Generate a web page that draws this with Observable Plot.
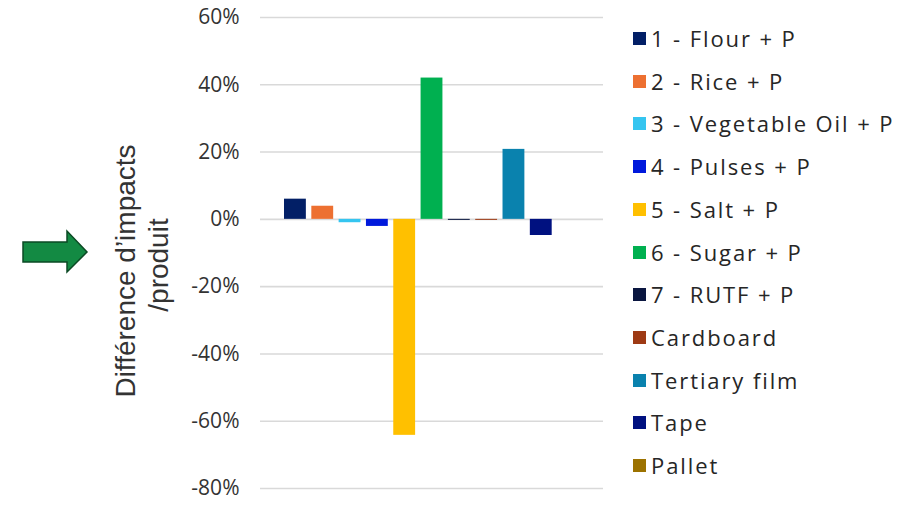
<!DOCTYPE html>
<html><head><meta charset="utf-8">
<script src="https://cdn.jsdelivr.net/npm/d3@7"></script>
<script src="https://cdn.jsdelivr.net/npm/@observablehq/plot@0.6"></script>
<style>
body{margin:0;background:#fff;}
#wrap{position:relative;width:909px;height:505px;overflow:hidden;}
#wrap svg.plot{position:absolute;left:0;top:0;}
.legend{position:absolute;left:633px;top:0;font-family:"Open Sans",sans-serif;font-size:22px;color:#262626;letter-spacing:1.9px;}
.legend .row{position:absolute;left:0;white-space:nowrap;height:26px;line-height:26px;}
.legend .sw{position:absolute;left:0;top:7px;width:13px;height:13px;}
.legend .lab{position:absolute;left:18px;top:0;}
#arrow{position:absolute;left:0;top:0;}
</style></head><body><div id="wrap"></div>
<script>
const categories = ["1 - Flour + P","2 - Rice + P","3 - Vegetable Oil + P","4 - Pulses + P","5 - Salt + P","6 - Sugar + P","7 - RUTF + P","Cardboard","Tertiary film","Tape","Pallet"];
const values = [0.06, 0.039, -0.01, -0.021, -0.642, 0.42, -0.003, -0.003, 0.208, -0.048, 0];
const colors = ["#021F66","#ED7031","#35C5F0","#0019DC","#FFC000","#00B050","#0A1640","#9E3A14","#0A82AE","#001180","#9C7200"];
const yTicks = [-0.8,-0.6,-0.4,-0.2,0,0.2,0.4,0.6];
const yLabel = ["Différence d’impacts", "/produit"];

const data = categories.map((c,i)=>({cat:c, value:values[i]}));
const wrap = document.getElementById("wrap");

const plot = Plot.plot({
  width: 909, height: 505,
  marginLeft: 260, marginRight: 306, marginTop: 17, marginBottom: 17,
  style: {background: "#fff", fontFamily: "'Open Sans', sans-serif"},
  x: {domain: categories, range: [284, 579], paddingInner: 0.2, paddingOuter: 0, round: false, axis: null},
  y: {domain: [-0.8, 0.6], axis: null},
  color: {domain: categories, range: colors},
  marks: [
    Plot.gridY(yTicks, {stroke: "#d9d9d9", strokeOpacity: 1, strokeWidth: 1.6}),
    Plot.barY(data, {x: "cat", y: "value", fill: "cat"}),
    Plot.axisY(yTicks, {label: null, tickSize: 0, tickPadding: 21, tickFormat: d => Math.round(d*100) + "%", fontSize: 21, fill: "#333", letterSpacing: 0.6, fontFamily: "'Open Sans', sans-serif"}),
    Plot.text([yLabel[0]], {frameAnchor: "left", textAnchor: "middle", rotate: -90, dx: -134, dy: 18, fontSize: 28, fill: "#333", letterSpacing: 1.2, fontFamily: "'Liberation Sans', Arial, sans-serif"}),
    Plot.text([yLabel[1]], {frameAnchor: "left", textAnchor: "middle", rotate: -90, dx: -101, dy: 12, fontSize: 28, fill: "#333", letterSpacing: 1.2, fontFamily: "'Liberation Sans', Arial, sans-serif"})
  ]
});
plot.classList.add("plot");
wrap.appendChild(plot);

// legend
const leg = document.createElement("div");
leg.className = "legend";
categories.forEach((c,i)=>{
  const row = document.createElement("div");
  row.className = "row";
  row.style.top = (25 + i*42.7) + "px";
  const sw = document.createElement("div");
  sw.className = "sw"; sw.style.background = colors[i];
  const lab = document.createElement("div");
  lab.className = "lab"; lab.textContent = c;
  row.appendChild(sw); row.appendChild(lab);
  leg.appendChild(row);
});
wrap.appendChild(leg);

// decorative arrow
const ns = "http://www.w3.org/2000/svg";
const svg = document.createElementNS(ns, "svg");
svg.setAttribute("id","arrow"); svg.setAttribute("width","100"); svg.setAttribute("height","300");
const poly = document.createElementNS(ns, "polygon");
poly.setAttribute("points","23,242 67,242 67,231 87,252 67,272 67,262 23,262");
poly.setAttribute("fill","#138A43"); poly.setAttribute("stroke","#0B4A24"); poly.setAttribute("stroke-width","1.5");
svg.appendChild(poly);
wrap.appendChild(svg);
</script></body></html>
